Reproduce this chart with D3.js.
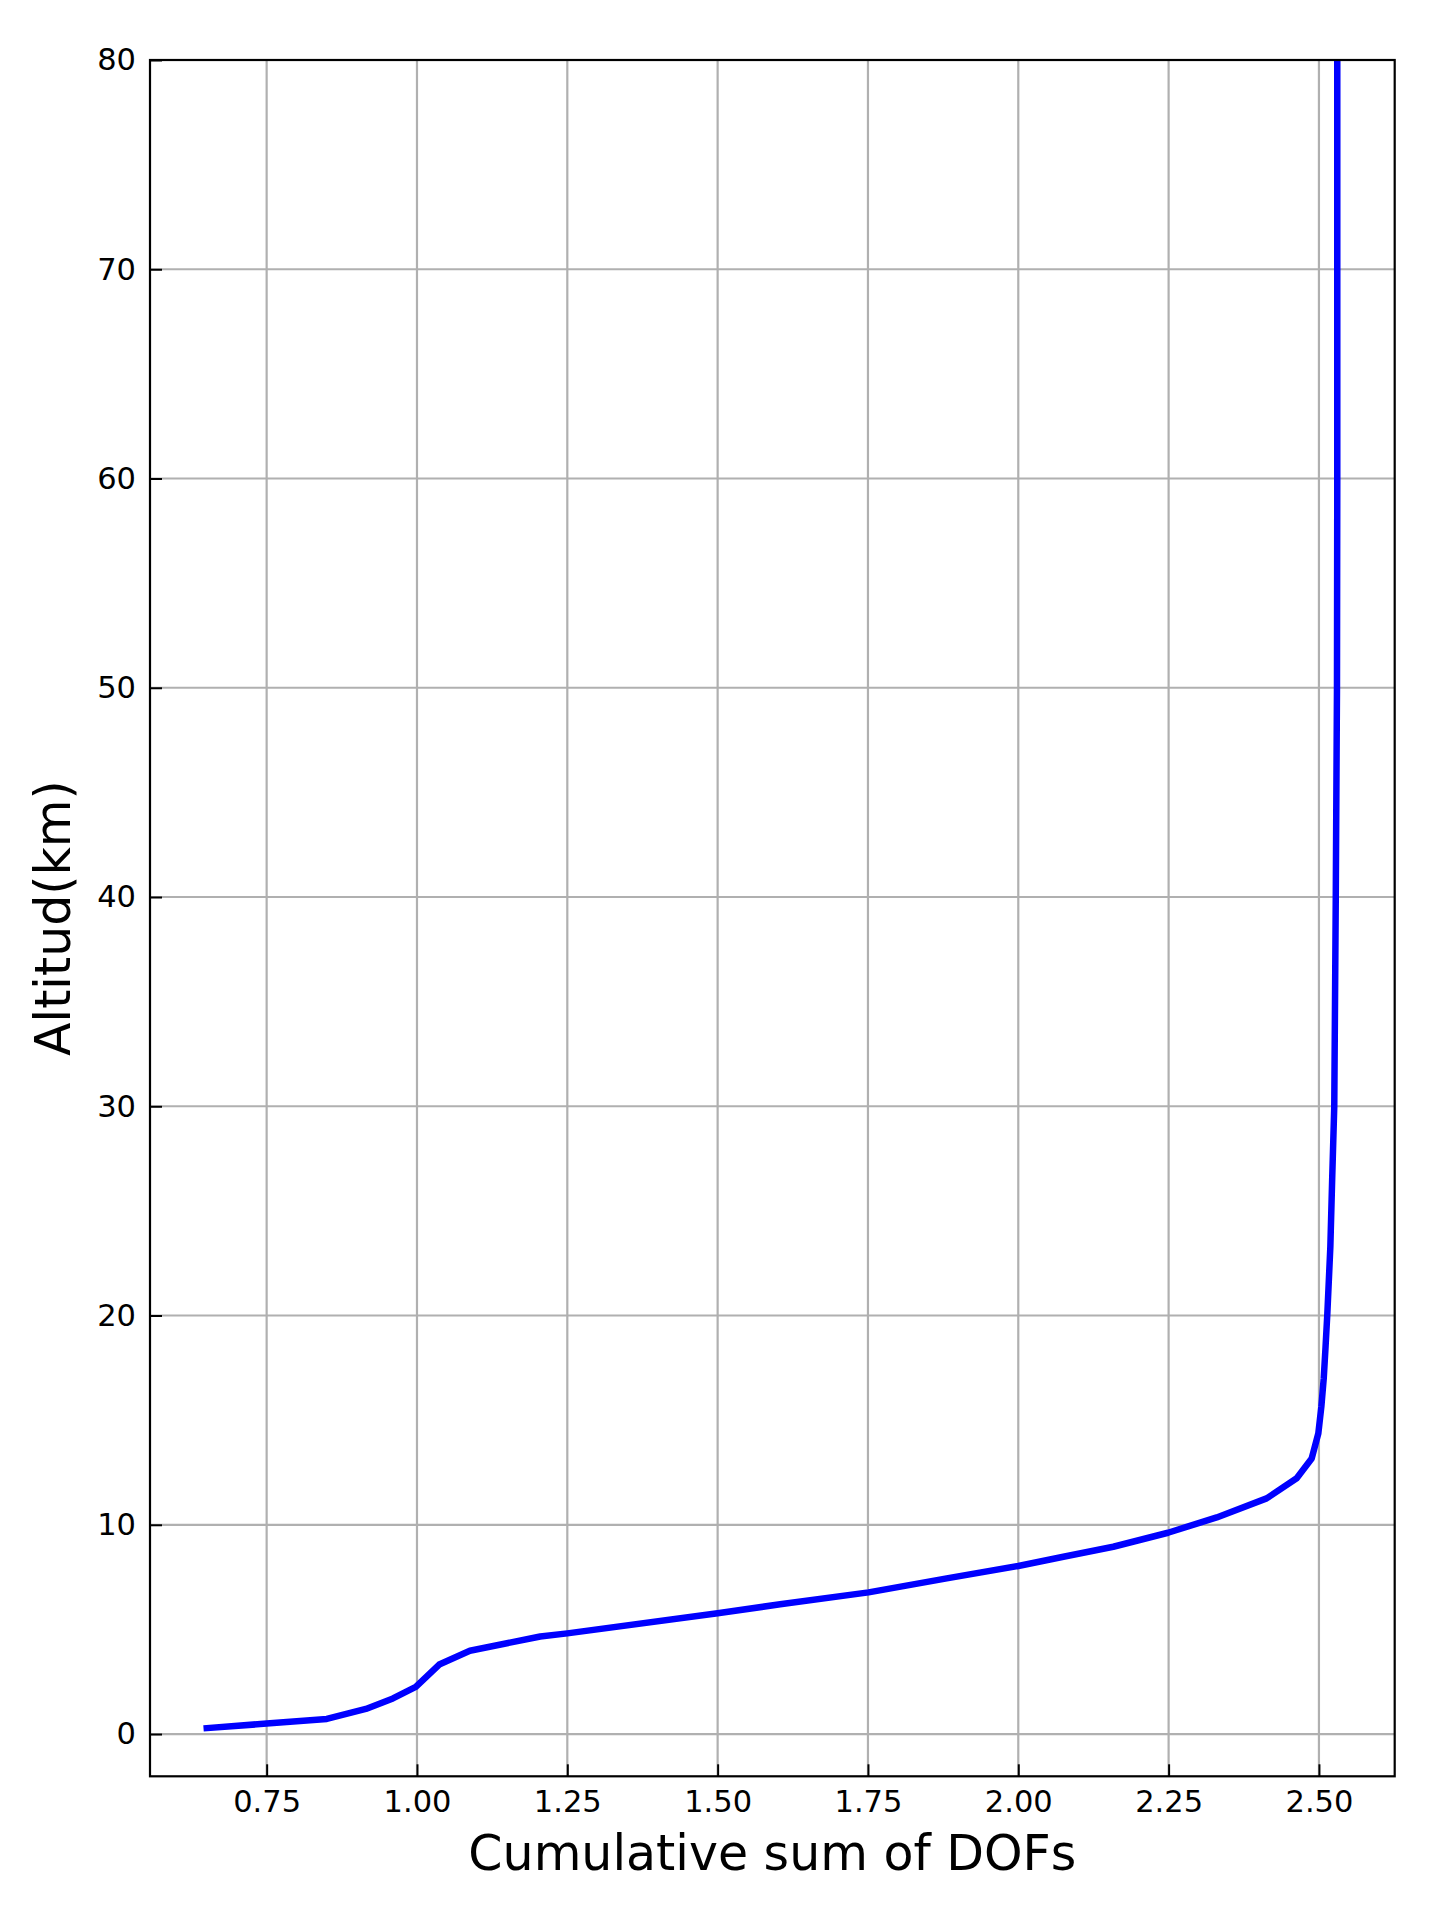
<!DOCTYPE html>
<html>
<head>
<meta charset="utf-8">
<script src="https://cdn.jsdelivr.net/npm/d3@7"></script>
<style>
  body { margin: 0; background: #fff; }
  svg { display: block; font-family: "DejaVu Sans", sans-serif; }
  .tick text { fill: #000; }
</style>
</head>
<body>
<svg id="dofChart" width="1443" height="1919"></svg>
<script>
// cumulative DOFs vs altitude
const dofs = [
  0.645, 0.75, 0.85, 0.915, 0.96, 0.998, 1.037, 1.088, 1.205, 1.25,
  1.5, 1.604, 1.751, 1.881, 2.0, 2.075, 2.158, 2.249, 2.33, 2.413,
  2.463, 2.488, 2.499, 2.504, 2.508, 2.511, 2.514, 2.519, 2.522, 2.5255,
  2.528, 2.53, 2.5305, 2.5305
];
const altitude = [
  0.27, 0.5, 0.72, 1.2, 1.7, 2.25, 3.32, 3.98, 4.66, 4.81,
  5.77, 6.2, 6.77, 7.44, 8.03, 8.47, 8.95, 9.62, 10.35, 11.26,
  12.22, 13.17, 14.37, 15.64, 17.0, 18.5, 20.1, 23.3, 26.5, 30,
  40, 50, 60, 80
];
const xTicks = [0.75, 1.0, 1.25, 1.5, 1.75, 2.0, 2.25, 2.5];
const yTicks = [0, 10, 20, 30, 40, 50, 60, 70, 80];

const data = dofs.map((d, i) => ({ dof: d, alt: altitude[i] }));

var svg = d3.select("#dofChart"),
  margin = { top: 60, right: 48.3, bottom: 142.7, left: 150 },
  width = +svg.attr("width"),
  height = +svg.attr("height");

var x = d3.scaleLinear()
  .domain([0.556, 2.626])
  .range([margin.left, width - margin.right]);

var y = d3.scaleLinear()
  .domain([-2.02, 80])
  .range([height - margin.bottom, margin.top]);

// grid
svg.append("g")
  .attr("class", "grid")
  .selectAll("line.gx")
  .data(xTicks)
  .enter()
  .append("line")
  .attr("x1", (d) => x(d))
  .attr("x2", (d) => x(d))
  .attr("y1", margin.top)
  .attr("y2", height - margin.bottom)
  .attr("stroke", "#b0b0b0")
  .attr("stroke-width", 2.2);

svg.select(".grid")
  .selectAll("line.gy")
  .data(yTicks)
  .enter()
  .append("line")
  .attr("x1", margin.left)
  .attr("x2", width - margin.right)
  .attr("y1", (d) => y(d))
  .attr("y2", (d) => y(d))
  .attr("stroke", "#b0b0b0")
  .attr("stroke-width", 2.2);

svg.append("clipPath")
  .attr("id", "plotClip")
  .append("rect")
  .attr("x", margin.left)
  .attr("y", margin.top)
  .attr("width", width - margin.left - margin.right)
  .attr("height", height - margin.top - margin.bottom);

var line = d3.line()
  .x((d) => x(d.dof))
  .y((d) => y(d.alt));

svg.append("path")
  .datum(data)
  .attr("clip-path", "url(#plotClip)")
  .attr("fill", "none")
  .attr("stroke", "#0000ff")
  .attr("stroke-width", 6.5)
  .attr("stroke-linejoin", "round")
  .attr("d", line);

// axes, ticks pointing inward
var xAxis = (g) =>
  g
    .attr("transform", "translate(0," + (height - margin.bottom) + ")")
    .call(
      d3.axisBottom(x)
        .tickValues(xTicks)
        .tickFormat(d3.format(".2f"))
        .tickSizeInner(-12)
        .tickSizeOuter(0)
        .tickPadding(13.7)
    );

var yAxis = (g) =>
  g
    .attr("transform", "translate(" + margin.left + ",0)")
    .call(
      d3.axisLeft(y)
        .tickValues(yTicks)
        .tickFormat(d3.format("d"))
        .tickSizeInner(-12)
        .tickSizeOuter(0)
        .tickPadding(14)
    );

svg.append("g").attr("class", "x-axis").call(xAxis);
svg.append("g").attr("class", "y-axis").call(yAxis);

svg.selectAll(".x-axis, .y-axis")
  .attr("font-family", "DejaVu Sans, sans-serif")
  .attr("font-size", 30.5);
svg.selectAll(".x-axis line, .y-axis line")
  .attr("stroke", "#000")
  .attr("stroke-width", 2);
svg.selectAll(".x-axis .domain, .y-axis .domain").remove();

// frame
svg.append("rect")
  .attr("x", margin.left)
  .attr("y", margin.top)
  .attr("width", width - margin.left - margin.right)
  .attr("height", height - margin.top - margin.bottom)
  .attr("fill", "none")
  .attr("stroke", "#000")
  .attr("stroke-width", 2.2);

svg.append("text")
  .attr("x", (margin.left + width - margin.right) / 2)
  .attr("y", 1870)
  .attr("text-anchor", "middle")
  .style("font-size", "49px")
  .text("Cumulative sum of DOFs");

svg.append("text")
  .attr("transform", "translate(70," + (margin.top + height - margin.bottom) / 2 + ") rotate(-90)")
  .attr("text-anchor", "middle")
  .style("font-size", "49px")
  .text("Altitud(km)");
</script>
</body>
</html>
